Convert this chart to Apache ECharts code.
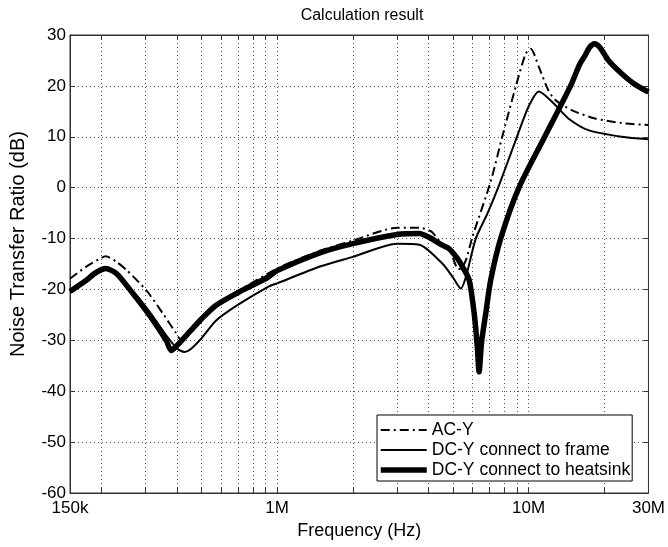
<!DOCTYPE html>
<html>
<head>
<meta charset="utf-8">
<script src="https://cdn.jsdelivr.net/npm/echarts@6/dist/echarts.min.js"></script>
<style>
  html, body { margin: 0; padding: 0; background: #fff; }
  #chart { width: 668px; height: 547px; }
</style>
</head>
<body>
<div id="chart"></div>
<script>
// frequency axis (Hz)
const xMin = 150e3
const xMax = 30e6
const xLabelValues = [150e3, 1e6, 10e6, 30e6]
const xGridValues = [150e3, 200e3, 300e3, 400e3, 500e3, 600e3, 700e3, 800e3, 900e3,
  1e6, 2e6, 3e6, 4e6, 5e6, 6e6, 7e6, 8e6, 9e6, 10e6, 20e6, 30e6]

// AC-Y
const acFreq = [150e3, 173e3, 200e3, 208e3, 230e3, 252e3, 302e3, 352e3, 395e3, 416e3, 451e3,
  500e3, 572e3, 700e3, 1e6, 1.48e6, 2e6, 3e6, 3.68e6, 4.1e6, 4.54e6, 4.83e6, 5.21e6, 5.35e6,
  5.63e6, 5.98e6, 7.07e6, 7.86e6, 8.89e6, 9.74e6, 10.2e6, 11e6, 12e6, 12.8e6, 14.9e6, 18.4e6,
  23.5e6, 30e6]
const acDb = [-17.9, -15.6, -13.8, -13.5, -14.6, -16.2, -20.2, -24.8, -28.5, -30.0, -27.8,
  -25.5, -22.8, -20.3, -15.9, -12.4, -10.4, -7.9, -7.9, -8.6, -11.2, -12.0, -15.9, -16.0,
  -14.3, -9.7, 1.2, 10.0, 19.8, 26.3, 27.3, 23.7, 19.1, 17.2, 15.2, 13.6, 12.7, 12.3]

// DC-Y connect to frame
const frFreq = [150e3, 175e3, 212e3, 267e3, 311e3, 362e3, 400e3, 428e3, 451e3, 500e3, 572e3,
  700e3, 920e3, 1e6, 1.48e6, 2e6, 3e6, 3.68e6, 4.54e6, 5.0e6, 5.38e6, 5.63e6, 6.17e6, 6.86e6,
  7.57e6, 8.89e6, 10e6, 11e6, 12.8e6, 14.4e6, 17.3e6, 23.5e6, 30e6]
const frDb = [-20.5, -18.2, -16.1, -20.4, -24.4, -29.0, -31.6, -32.3, -31.8, -29.6, -26.1,
  -23.0, -19.5, -18.8, -15.5, -13.6, -11.0, -11.2, -14.9, -17.6, -19.8, -17.6, -10.0, -5.1,
  0.0, 9.3, 15.9, 18.9, 16.2, 13.6, 11.3, 10.0, 9.5]

// DC-Y connect to heatsink
const hsFreq = [150e3, 173e3, 190e3, 208e3, 230e3, 267e3, 311e3, 362e3, 379e3, 400e3, 451e3,
  500e3, 572e3, 700e3, 920e3, 1e6, 1.48e6, 2e6, 3e6, 3.68e6, 4e6, 4.54e6, 4.83e6, 5.21e6,
  5.5e6, 5.81e6, 6.08e6, 6.25e6, 6.36e6, 6.5e6, 6.76e6, 7.07e6, 7.75e6, 9.16e6, 11.6e6,
  14.7e6, 16e6, 16.8e6, 17.5e6, 18.3e6, 19.2e6, 20.8e6, 23.5e6, 26.5e6, 30e6]
const hsDb = [-20.4, -18.3, -16.7, -15.9, -16.9, -20.8, -25.1, -30.0, -32.0, -31.0, -28.2,
  -25.8, -23.1, -20.6, -17.6, -16.3, -12.8, -11.0, -9.2, -9.0, -9.7, -11.3, -12.0, -13.9,
  -15.8, -18.2, -24.7, -31.0, -36.2, -30.5, -24.7, -18.2, -10.0, 0.0, 10.0, 20.0, 24.3, 26.0,
  27.6, 28.3, 27.6, 25.0, 22.4, 20.3, 18.8]

const pairs = (fs, vs) => fs.map((f, i) => [f, vs[i]])
const font = 'Liberation Sans, Arial, sans-serif'

const chart = echarts.init(document.getElementById('chart'))
const frameColor = '#333'
const gridLine = { show: true, lineStyle: { color: '#555', type: [1, 3], width: 1 } }
const acStyle = { color: '#000', width: 2, type: [9, 4, 2, 4] }
const frStyle = { color: '#000', width: 2 }
const hsStyle = { color: '#000', width: 5.5 }

const option = {
  animation: false,
  backgroundColor: '#fff',
  textStyle: { fontFamily: font, color: '#000' },
  title: {
    text: 'Calculation result',
    left: 357, top: 3, textAlign: 'center',
    textStyle: { fontFamily: font, fontSize: 16, fontWeight: 'normal', color: '#000' }
  },
  grid: { left: 69, right: 17, top: 35, bottom: 54, show: true, borderColor: frameColor, borderWidth: 1 },
  legend: {
    orient: 'vertical',
    left: 377, top: 415,
    padding: [6, 2, 2, 1],
    itemGap: 2,
    itemWidth: 46, itemHeight: 16,
    backgroundColor: '#fff',
    borderColor: '#000', borderWidth: 1,
    itemStyle: { color: 'rgba(0,0,0,0)', borderWidth: 0 },
    textStyle: { fontFamily: font, fontSize: 17.5, lineHeight: 18, color: '#000' },
    data: [
      { name: 'AC-Y', lineStyle: acStyle },
      { name: 'DC-Y connect to frame', lineStyle: frStyle },
      { name: 'DC-Y connect to heatsink', lineStyle: hsStyle }
    ]
  },
  xAxis: [{
    type: 'log', logBase: 10, min: xMin, max: xMax,
    name: 'Frequency (Hz)', nameLocation: 'middle', nameGap: 29,
    nameTextStyle: { fontFamily: font, fontSize: 18, color: '#000' },
    axisLine: { onZero: false, lineStyle: { color: frameColor } },
    axisTick: { inside: true, length: 5, customValues: xGridValues, lineStyle: { color: frameColor } },
    axisLabel: {
      customValues: xLabelValues, margin: 7, fontFamily: font, fontSize: 17, color: '#000',
      formatter: v => (v >= 1e6 ? Math.round(v / 1e6) + 'M' : Math.round(v / 1e3) + 'k')
    },
    splitLine: gridLine
  }, {
    type: 'log', logBase: 10, min: xMin, max: xMax, position: 'top',
    axisLine: { onZero: false, lineStyle: { color: frameColor } },
    axisTick: { inside: true, length: 5, customValues: xGridValues, lineStyle: { color: frameColor } },
    axisLabel: { show: false },
    splitLine: { show: false }
  }],
  yAxis: [{
    type: 'value', min: -60, max: 30, interval: 10,
    name: 'Noise Transfer Ratio (dB)', nameLocation: 'middle', nameGap: 42,
    nameTextStyle: { fontFamily: font, fontSize: 20, color: '#000', padding: [0, 0, 0, 40] },
    axisLine: { show: true, onZero: false, lineStyle: { color: frameColor } },
    axisTick: { inside: true, length: 5, lineStyle: { color: frameColor } },
    axisLabel: { margin: 4, fontFamily: font, fontSize: 17, color: '#000' },
    splitLine: gridLine
  }, {
    type: 'value', min: -60, max: 30, interval: 10, position: 'right',
    axisLine: { show: true, onZero: false, lineStyle: { color: frameColor } },
    axisTick: { inside: true, length: 5, lineStyle: { color: frameColor } },
    axisLabel: { show: false },
    splitLine: { show: false }
  }],
  series: [{
    name: 'AC-Y', type: 'line', symbol: 'none', smooth: 0.25,
    data: pairs(acFreq, acDb),
    lineStyle: acStyle,
    itemStyle: { color: '#000' }
  }, {
    name: 'DC-Y connect to frame', type: 'line', symbol: 'none', smooth: 0.25,
    data: pairs(frFreq, frDb),
    lineStyle: frStyle,
    itemStyle: { color: '#000' }
  }, {
    name: 'DC-Y connect to heatsink', type: 'line', symbol: 'none', smooth: 0.25,
    data: pairs(hsFreq, hsDb),
    lineStyle: hsStyle,
    itemStyle: { color: '#000' }
  }]
}
chart.setOption(option)
</script>
</body>
</html>
